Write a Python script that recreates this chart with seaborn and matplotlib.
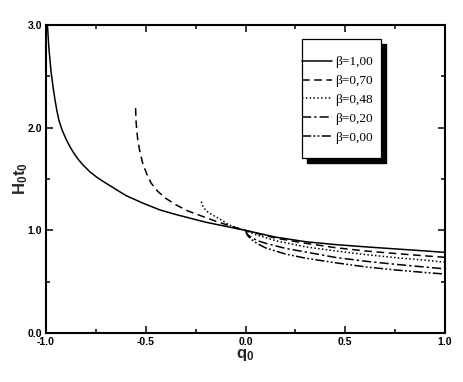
import numpy as np
import pandas as pd
import matplotlib
matplotlib.use("Agg")
import matplotlib.pyplot as plt
from matplotlib.patches import Rectangle
from matplotlib.ticker import MultipleLocator
import seaborn as sns

sns.set_theme(style="ticks")
plt.rcParams["font.family"] = ["Liberation Sans Narrow", "Liberation Sans", "DejaVu Sans"]
plt.rcParams["mathtext.fontset"] = "custom"
plt.rcParams["mathtext.bf"] = "Liberation Sans:bold"
plt.rcParams["mathtext.rm"] = "Liberation Sans"

# values
q_b100 = [-0.993, -0.985, -0.975, -0.965, -0.955, -0.945, -0.935, -0.92, -0.90, -0.88,
          -0.86, -0.84, -0.816, -0.78, -0.74, -0.70, -0.65, -0.60, -0.52, -0.43, -0.35,
          -0.28, -0.20, -0.10, 0.00, 0.15, 0.30, 0.45, 0.60, 0.75, 0.90, 1.00]
h_b100 = [3.00, 2.76, 2.55, 2.40, 2.27, 2.16, 2.07, 1.98, 1.89, 1.815,
          1.75, 1.695, 1.64, 1.57, 1.51, 1.46, 1.40, 1.34, 1.27, 1.20, 1.155,
          1.12, 1.08, 1.04, 1.00, 0.935, 0.89, 0.862, 0.84, 0.82, 0.80, 0.786]

q_b070 = [-0.551, -0.549, -0.545, -0.54, -0.53, -0.515, -0.495, -0.473, -0.44, -0.398,
          -0.35, -0.29, -0.22, -0.15, -0.08, 0.00, 0.15, 0.30, 0.45, 0.60, 0.75, 0.90, 1.00]
h_b070 = [2.19, 2.07, 1.97, 1.88, 1.77, 1.65, 1.55, 1.46, 1.38, 1.31,
          1.25, 1.19, 1.14, 1.09, 1.045, 1.00, 0.925, 0.875, 0.832, 0.80, 0.775, 0.752, 0.738]

q_b048 = [-0.222, -0.215, -0.205, -0.19, -0.17, -0.147, -0.12, -0.08, -0.04, 0.00, 0.05,
          0.15, 0.30, 0.45, 0.60, 0.75, 0.90, 1.00]
h_b048 = [1.28, 1.24, 1.21, 1.18, 1.155, 1.13, 1.10, 1.05, 1.02, 1.00, 0.96,
          0.90, 0.84, 0.80, 0.765, 0.735, 0.71, 0.69]

q_b020 = [0.00, 0.01, 0.03, 0.06, 0.10, 0.15, 0.20, 0.30, 0.45, 0.60, 0.75, 0.90, 1.00]
h_b020 = [1.00, 0.96, 0.93, 0.90, 0.875, 0.85, 0.825, 0.79, 0.737, 0.70, 0.67, 0.643, 0.625]

q_b000 = [0.00, 0.01, 0.03, 0.06, 0.10, 0.15, 0.20, 0.30, 0.45, 0.60, 0.75, 0.90, 1.00]
h_b000 = [1.00, 0.95, 0.91, 0.87, 0.83, 0.80, 0.77, 0.73, 0.685, 0.645, 0.615, 0.59, 0.575]

labels = ["β=1,00", "β=0,70", "β=0,48", "β=0,20", "β=0,00"]
series = [(q_b100, h_b100), (q_b070, h_b070), (q_b048, h_b048),
          (q_b020, h_b020), (q_b000, h_b000)]
dash_styles = ["-", (0, (5, 3)), (0, (1, 1.5)), (0, (6, 2, 1.5, 2)),
               (0, (6, 1.5, 1.2, 1.5, 1.2, 1.5))]

fig = plt.figure(figsize=(4.63, 3.82), dpi=100)
ax = fig.add_axes([0.0994, 0.128, 0.8618, 0.8066])

for (q, h), lab, ls in zip(series, labels, dash_styles):
    df = pd.DataFrame({"q0": q, "H0t0": h})
    sns.lineplot(data=df, x="q0", y="H0t0", ax=ax, color="black", linewidth=1.1,
                 linestyle=ls, label=lab, sort=False, estimator=None)

ax.set_xlim(-1.0, 1.0)
ax.set_ylim(0.0, 3.0)
ax.xaxis.set_major_locator(MultipleLocator(0.5))
ax.xaxis.set_minor_locator(MultipleLocator(0.25))
ax.yaxis.set_major_locator(MultipleLocator(1.0))
ax.yaxis.set_minor_locator(MultipleLocator(0.5))
ax.tick_params(which="both", direction="in", top=True, right=True, width=1.1, colors="black")
ax.tick_params(which="major", length=5, labelsize=7.5, pad=3)
ax.tick_params(which="minor", length=3)
ax.set_xticks([-1.0, -0.5, 0.0, 0.5, 1.0])
ax.set_xticklabels(["-1.0", "-0.5", "0.0", "0.5", "1.0"], fontweight="bold")
ax.set_yticks([0.0, 1.0, 2.0, 3.0])
ax.set_yticklabels(["0.0", "1.0", "2.0", "3.0"], fontweight="bold")
for s in ax.spines.values():
    s.set_linewidth(1.5)
    s.set_color("black")

ax.set_xlabel(r"$\mathbf{q_0}$", fontsize=12, labelpad=0)
ax.set_ylabel(r"$\mathbf{H_0t_0}$", fontsize=12, labelpad=-2)

# legend box with solid black shadow
x0, x1 = 0.6416, 0.8396
y0, y1 = 0.568, 0.9545
ax.add_patch(Rectangle((x0 + 0.0125, y0 - 0.016), x1 - x0, y1 - y0, transform=ax.transAxes,
                       facecolor="black", edgecolor="black", zorder=4))
ax.add_patch(Rectangle((x0, y0), x1 - x0, y1 - y0, transform=ax.transAxes,
                       facecolor="white", edgecolor="black", linewidth=0.9, zorder=5))
leg = ax.legend(loc="upper left", bbox_to_anchor=(x0, 0.899), borderaxespad=0, borderpad=0,
                frameon=False, handlelength=2.27, handletextpad=0.23, labelspacing=0.5,
                prop={"family": "Liberation Serif", "size": 9.5})
leg.set_zorder(6)
for t in leg.get_texts():
    t.set_color("black")

fig.savefig("out.png", dpi=100)
